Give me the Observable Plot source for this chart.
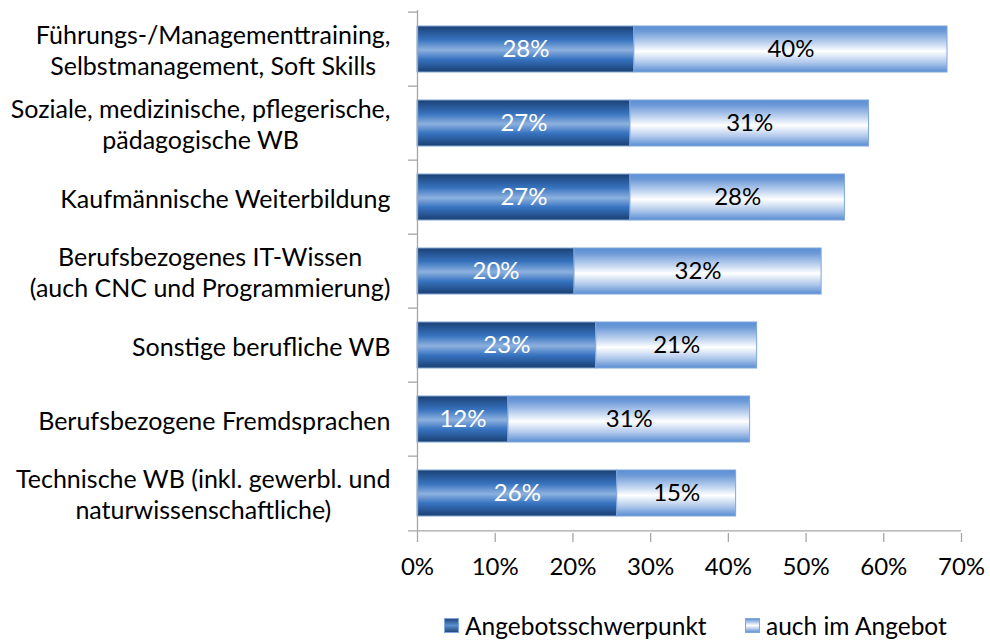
<!DOCTYPE html>
<html>
<head>
<meta charset="utf-8">
<script src="https://cdn.jsdelivr.net/npm/d3@7"></script>
<script src="https://cdn.jsdelivr.net/npm/@observablehq/plot@0.6"></script>
<style>
  html, body { margin: 0; padding: 0; background: #fff; }
  #chart { width: 990px; }
  .legend { position: relative; height: 30px; font-family: Lato, "Open Sans", sans-serif; font-size: 24.5px; color: #000; }
  .legend .item { position: absolute; top: 0; display: flex; align-items: center; height: 30px; }
  .legend svg { margin-right: 6px; }
</style>
</head>
<body>
<div id="chart"></div>
<script>
// ---- data ----
const categories = [
  "Führungs-/Managementtraining,\nSelbstmanagement, Soft Skills",
  "Soziale, medizinische, pflegerische,\npädagogische WB",
  "Kaufmännische Weiterbildung",
  "Berufsbezogenes IT-Wissen\n(auch CNC und Programmierung)",
  "Sonstige berufliche WB",
  "Berufsbezogene Fremdsprachen",
  "Technische WB (inkl. gewerbl. und\nnaturwissenschaftliche)"
];
const seriesNames = ["Angebotsschwerpunkt", "auch im Angebot"];
const schwerpunkt = [27.9, 27.4, 27.4, 20.2, 23.0, 11.7, 25.7];
const auchImAngebot = [40.3, 30.7, 27.6, 31.8, 20.7, 31.1, 15.3];
const xTicks = [0, 10, 20, 30, 40, 50, 60, 70];

const data = [
  ...categories.map((c, i) => ({cat: c, series: seriesNames[0], value: schwerpunkt[i]})),
  ...categories.map((c, i) => ({cat: c, series: seriesNames[1], value: auchImAngebot[i]}))
];

// ---- layout ----
const W = 990, H = 610;
const mTop = 10, mBottom = 77, mLeft = 417, mRight = 29;
const step = (H - mTop - mBottom) / categories.length;
const frameW = W - mLeft - mRight;
const FONT = "Lato, 'Open Sans', sans-serif";
const FS = 24;
const FS_LABEL = 25;
const axisColor = "#a6a6a6";

const fillFor = d => d.series === seriesNames[0] ? "url(#gDark)" : "url(#gLight)";
const textFor = d => d.series === seriesNames[0] ? "#ffffff" : "#000000";

const chart = Plot.plot({
  width: W, height: H,
  marginTop: mTop, marginBottom: mBottom, marginLeft: mLeft, marginRight: mRight,
  style: {fontFamily: FONT, fontSize: FS + "px", color: "#000", background: "#fff"},
  x: {domain: [0, 70]},
  y: {domain: categories, paddingInner: 0.375, paddingOuter: 0.1875, axis: null},
  color: {type: "identity"},
  marks: [
    Plot.barX(data, Plot.stackX({
      x: "value", y: "cat", z: "series", fill: fillFor,
      stroke: "#7fa6dc", strokeWidth: 1
    })),
    Plot.text(data, Plot.stackX({
      x: "value", y: "cat", z: "series",
      text: d => Math.round(d.value) + "%",
      fill: textFor, fontSize: FS
    })),
    // y-axis line
    Plot.ruleX([0], {stroke: axisColor, strokeWidth: 1.3}),
    // category separator ticks on the y axis
    Plot.tickY(categories, {y: d => d, dy: -step / 2, insetLeft: -9, insetRight: frameW, stroke: axisColor, strokeWidth: 1.3}),
    // x-axis base line (bottom boundary)
    Plot.tickY(categories.slice(-1), {y: d => d, dy: step / 2, insetLeft: -9, insetRight: 0, stroke: axisColor, strokeWidth: 1.3}),
    Plot.axisX({
      ticks: xTicks, tickFormat: d => d + "%", tickSize: 9, tickPadding: 15,
      stroke: axisColor, strokeWidth: 1.3, fontSize: FS, label: null, color: "#000"
    }),
    Plot.text(categories, {
      y: d => d, frameAnchor: "left", textAnchor: "end", dx: -27,
      text: d => d, fill: "#000", fontSize: FS_LABEL, lineHeight: 1.25
    })
  ]
});

document.getElementById("chart").appendChild(chart);

// gradients
const defs = d3.select(chart).insert("defs", ":first-child");
function grad(id, stops) {
  const g = defs.append("linearGradient").attr("id", id)
    .attr("x1", 0).attr("y1", 0).attr("x2", 0).attr("y2", 1);
  stops.forEach(([o, c]) => g.append("stop").attr("offset", o).attr("stop-color", c));
}
grad("gDark", [[0, "#1d4172"], [0.08, "#224e89"], [0.3, "#3873be"], [0.52, "#8db1df"], [0.72, "#3874c1"], [0.92, "#224e89"], [1, "#1c406f"]]);
grad("gLight", [[0, "#5a8ed3"], [0.12, "#6e9bd8"], [0.35, "#b9cfee"], [0.55, "#ffffff"], [0.78, "#b4cbec"], [1, "#5a8ed3"]]);

// centre the lines of each multi-line category label on each other, keeping the block right-aligned
const flat = new Set(categories.map(c => c.replace(/\n/g, "")));
d3.select(chart).selectAll("text").each(function () {
  if (!flat.has(this.textContent)) return;
  const w = this.getBBox().width;
  const t = this.getAttribute("transform") || "";
  this.setAttribute("text-anchor", "middle");
  this.querySelectorAll("tspan").forEach(s => s.setAttribute("text-anchor", "middle"));
  this.setAttribute("transform", t + ` translate(${-w / 2},0)`);
});

// legend
const legend = d3.select("body").append("div").attr("class", "legend");
const legendX = [444, 745];
seriesNames.forEach((name, i) => {
  const item = legend.append("div").attr("class", "item").style("left", legendX[i] + "px");
  const sw = item.append("svg").attr("width", 15).attr("height", 15);
  const gid = "lg" + i;
  const lg = sw.append("defs").append("linearGradient").attr("id", gid)
    .attr("x1", 0).attr("y1", 0).attr("x2", 0).attr("y2", 1);
  const stops = i === 0
    ? [[0, "#1f4475"], [0.5, "#5b8ed3"], [1, "#1f4475"]]
    : [[0, "#5a8ed3"], [0.5, "#ffffff"], [1, "#5a8ed3"]];
  stops.forEach(([o, c]) => lg.append("stop").attr("offset", o).attr("stop-color", c));
  sw.append("rect").attr("x", 0.5).attr("y", 0.5).attr("width", 14).attr("height", 14)
    .attr("fill", `url(#${gid})`).attr("stroke", "#7fa6dc");
  item.append("span").text(name);
});
</script>
</body>
</html>
